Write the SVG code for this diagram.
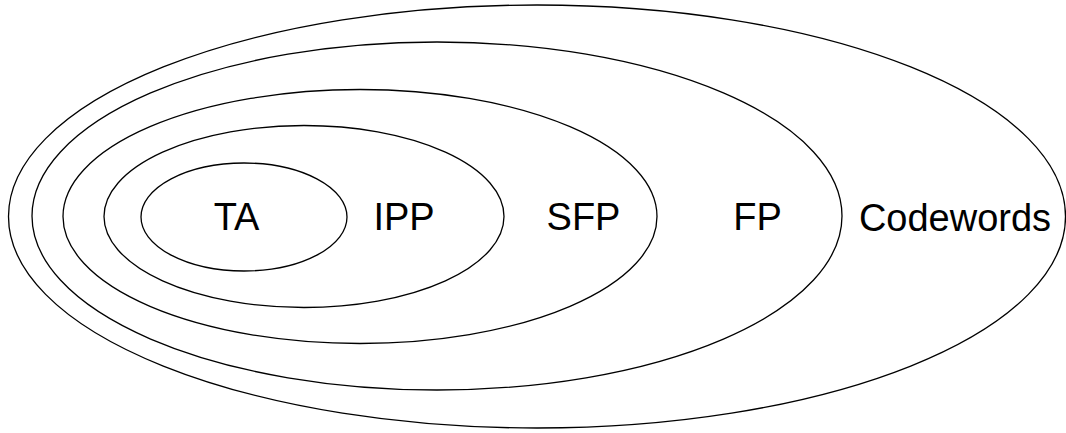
<svg xmlns="http://www.w3.org/2000/svg" width="1066" height="433" viewBox="0 0 1066 433">
  <style>
    .set { fill: none; stroke: #000; stroke-width: 1.3; }
    .lbl { font-family: "Liberation Sans", Arial, sans-serif; font-size: 38px; fill: #000; text-anchor: middle; }
  </style>
  <rect width="1066" height="433" fill="#fff"/>
  <!-- Nested sets: Codewords ⊃ FP ⊃ SFP ⊃ IPP ⊃ TA -->
  <g id="codewords">
    <ellipse class="set" cx="537" cy="216.5" rx="528.5" ry="211.5"/>
    <text class="lbl" x="955" y="231">Codewords</text>
  </g>
  <g id="fp">
    <ellipse class="set" cx="437" cy="216" rx="405" ry="174"/>
    <text class="lbl" x="757.5" y="230">FP</text>
  </g>
  <g id="sfp">
    <ellipse class="set" cx="360" cy="216.5" rx="297" ry="127"/>
    <text class="lbl" x="583.5" y="230">SFP</text>
  </g>
  <g id="ipp">
    <ellipse class="set" cx="304" cy="216.5" rx="200" ry="91"/>
    <text class="lbl" x="404" y="230">IPP</text>
  </g>
  <g id="ta">
    <ellipse class="set" cx="244" cy="217" rx="103" ry="54"/>
    <text class="lbl" x="236.5" y="230">TA</text>
  </g>
  <g id="connectors"/>
</svg>
